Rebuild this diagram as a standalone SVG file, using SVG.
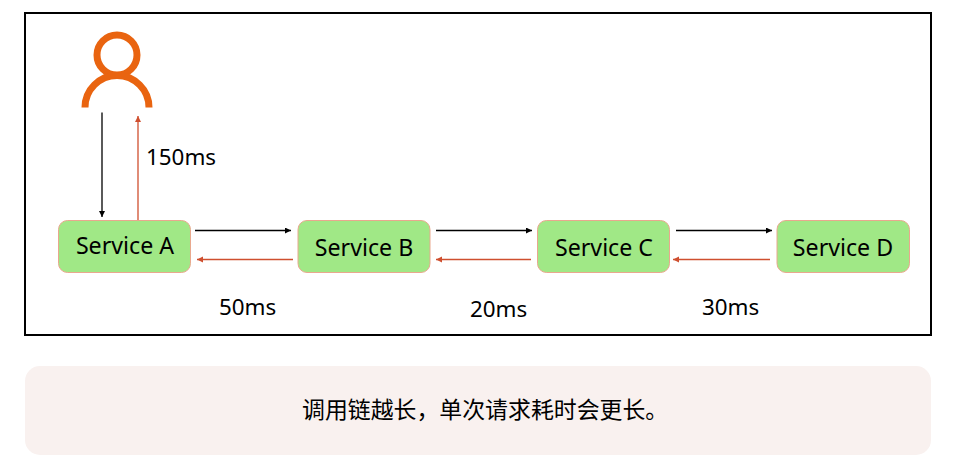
<svg xmlns="http://www.w3.org/2000/svg" width="953" height="470" viewBox="0 0 953 470">
<style>
.t{font-family:"Noto Sans","Noto Sans CJK SC",sans-serif;font-size:22.400px;fill:#000}
.s{font-family:"Noto Sans","Noto Sans CJK SC",sans-serif;font-size:23.200px;fill:#000}
.c{font-family:"Noto Sans CJK SC","Noto Sans",sans-serif;font-size:22.900px;fill:#000}
.n{fill:#a0e886;stroke:#e9a88e;stroke-width:1}
.k{stroke:#000;stroke-width:1.300;fill:none}
.r{stroke:#cf4f2f;stroke-width:1.300;fill:none}
</style>
<defs>
<marker id="mk" markerUnits="userSpaceOnUse" markerWidth="8" markerHeight="8" refX="6" refY="3" orient="auto"><path d="M0 0L6 3L0 6Z" fill="#000"/></marker>
<marker id="mr" markerUnits="userSpaceOnUse" markerWidth="8" markerHeight="8" refX="6" refY="3" orient="auto"><path d="M0 0L6 3L0 6Z" fill="#cf4f2f"/></marker>
</defs>
<rect width="953" height="470" fill="#fff"/>
<rect x="25" y="13" width="906" height="322" fill="#fff" stroke="#000" stroke-width="2"/>
<rect x="25" y="366" width="906" height="89" rx="15" fill="#f9f1ef"/>
<text class="c" x="302" y="418">调用链越长，单次请求耗时会更长。</text>
<g id="user" fill="none" stroke="#e96410" stroke-width="7">
<circle cx="117" cy="55" r="20"/>
<path d="M85 107.500A32 32 0 0 1 149 107.500"/>
</g>
<g id="connectors">
<line class="k" x1="102" y1="112.500" x2="102" y2="217" marker-end="url(#mk)"/>
<line class="r" x1="138" y1="220" x2="138" y2="116" marker-end="url(#mr)"/>
<line class="k" x1="195" y1="230.500" x2="291" y2="230.500" marker-end="url(#mk)"/>
<line class="r" x1="293" y1="259.500" x2="197" y2="259.500" marker-end="url(#mr)"/>
<line class="k" x1="436" y1="230.500" x2="532" y2="230.500" marker-end="url(#mk)"/>
<line class="r" x1="531" y1="259.500" x2="436" y2="259.500" marker-end="url(#mr)"/>
<line class="k" x1="676" y1="230.500" x2="772" y2="230.500" marker-end="url(#mk)"/>
<line class="r" x1="770" y1="259.500" x2="673" y2="259.500" marker-end="url(#mr)"/>
</g>
<g id="service-a"><rect class="n" x="58.500" y="220.500" width="132" height="52" rx="9"/><text class="s" x="125" y="254" text-anchor="middle">Service A</text></g>
<g id="service-b"><rect class="n" x="298" y="220.500" width="132" height="52" rx="9"/><text class="s" x="364" y="256" text-anchor="middle">Service B</text></g>
<g id="service-c"><rect class="n" x="537.500" y="220.500" width="132" height="52" rx="9"/><text class="s" x="604" y="256" text-anchor="middle">Service C</text></g>
<g id="service-d"><rect class="n" x="777" y="220.500" width="132.500" height="52" rx="9"/><text class="s" x="843" y="256" text-anchor="middle">Service D</text></g>
<text class="t" x="146" y="165">150ms</text>
<text class="t" x="219" y="315">50ms</text>
<text class="t" x="470" y="317">20ms</text>
<text class="t" x="702" y="315">30ms</text>
</svg>
